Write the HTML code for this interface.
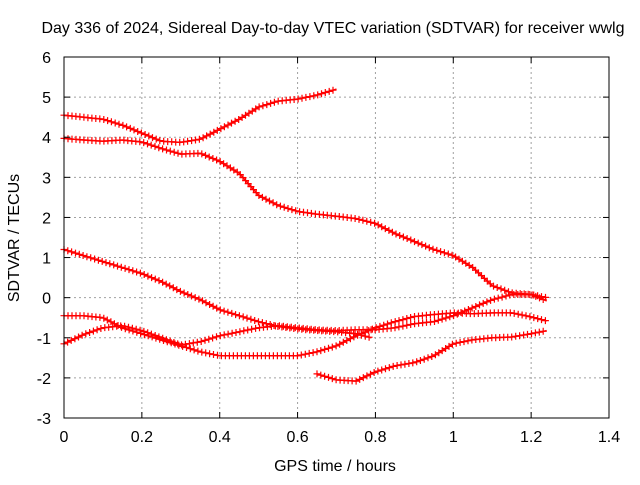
<!DOCTYPE html>
<html><head><meta charset="utf-8"><style>
body{margin:0;background:#fff}
svg text{font-family:"Liberation Sans",sans-serif;font-size:16px;fill:#000}
</style></head><body>
<svg id="chart" width="640" height="480" viewBox="0 0 640 480" xmlns="http://www.w3.org/2000/svg">
<rect width="640" height="480" fill="#fff"/>
<text x="333" y="33" text-anchor="middle">Day 336 of 2024, Sidereal Day-to-day VTEC variation (SDTVAR) for receiver wwlg</text>
<text x="335" y="471" text-anchor="middle">GPS time / hours</text>
<text transform="translate(19,238) rotate(-90)" text-anchor="middle">SDTVAR / TECUs</text>
<g id="grid"></g><g id="series"></g><g id="axes"></g>
</svg>
<script>
const xTicks=[0,0.2,0.4,0.6,0.8,1,1.2,1.4];
const xTickLabels=["0","0.2","0.4","0.6","0.8","1","1.2","1.4"];
const yTicks=[-3,-2,-1,0,1,2,3,4,5,6];
const yTickLabels=["-3","-2","-1","0","1","2","3","4","5","6"];
const xA=[0,0.05,0.1,0.15,0.2,0.25,0.3,0.35,0.4,0.45,0.5,0.55,0.6,0.65,0.7];
const yA=[4.55,4.5,4.45,4.3,4.1,3.9,3.87,3.95,4.2,4.45,4.75,4.9,4.95,5.05,5.2];
const xFull=[0,0.05,0.1,0.15,0.2,0.25,0.3,0.35,0.4,0.45,0.5,0.55,0.6,0.65,0.7,0.75,0.8,0.85,0.9,0.95,1.0,1.05,1.1,1.15,1.2,1.24];
const yB=[3.97,3.93,3.9,3.93,3.88,3.72,3.58,3.6,3.4,3.1,2.55,2.3,2.15,2.08,2.03,1.97,1.85,1.6,1.4,1.2,1.05,0.75,0.3,0.12,0.08,-0.08];
const xC=[0,0.05,0.1,0.15,0.2,0.25,0.3,0.35,0.4,0.45,0.5,0.55,0.6,0.65,0.7,0.75,0.79];
const yC=[1.2,1.05,0.9,0.75,0.6,0.4,0.15,-0.05,-0.3,-0.45,-0.6,-0.72,-0.78,-0.82,-0.85,-0.9,-1.0];
const yD=[-0.45,-0.45,-0.5,-0.75,-0.9,-1.05,-1.2,-1.35,-1.45,-1.45,-1.45,-1.45,-1.45,-1.35,-1.2,-0.95,-0.75,-0.6,-0.47,-0.42,-0.38,-0.4,-0.38,-0.38,-0.48,-0.58];
const yE=[-1.15,-0.92,-0.75,-0.7,-0.82,-1.0,-1.18,-1.1,-0.95,-0.85,-0.75,-0.7,-0.75,-0.8,-0.82,-0.8,-0.8,-0.75,-0.65,-0.6,-0.45,-0.25,-0.05,0.08,0.08,0.0];
const xF=[0.65,0.7,0.75,0.8,0.85,0.9,0.95,1.0,1.05,1.1,1.15,1.2,1.24];
const yF=[-1.9,-2.05,-2.08,-1.85,-1.7,-1.62,-1.45,-1.15,-1.05,-1.0,-0.98,-0.9,-0.82];
const seriesX=[xA,xFull,xC,xFull,xFull,xF];
const seriesY=[yA,yB,yC,yD,yE,yF];
const L=64,R=609,T=57,B=418;
const sx=v=>L+(v-0)/1.4*(R-L);
const sy=v=>T+(6-v)/9*(B-T);
const NS="http://www.w3.org/2000/svg";
function mk(tag,parent,attrs){const e=document.createElementNS(NS,tag);for(const k in attrs)e.setAttribute(k,attrs[k]);parent.appendChild(e);return e;}
const grid=document.getElementById('grid'),axes=document.getElementById('axes'),ser=document.getElementById('series');
xTicks.forEach((t,i)=>{const x=sx(t);
 if(i>0&&i<xTicks.length-1){const g=mk('line',grid,{x1:x,x2:x,y1:T,y2:B,stroke:'#a0a0a0','stroke-dasharray':'2,3'});
 
 }
 mk('line',axes,{x1:x,x2:x,y1:B,y2:B-6,stroke:'#000'});mk('line',axes,{x1:x,x2:x,y1:T,y2:T+6,stroke:'#000'});
 const tx=mk('text',axes,{x:x,y:B+24,'text-anchor':'middle'});tx.textContent=xTickLabels[i];
 
 });
yTicks.forEach((t,i)=>{const y=sy(t);
 if(i>0&&i<yTicks.length-1){const g=mk('line',grid,{x1:L,x2:R,y1:y,y2:y,stroke:'#a0a0a0','stroke-dasharray':'2,3'});
 
 }
 mk('line',axes,{x1:L,x2:L+6,y1:y,y2:y,stroke:'#000'});mk('line',axes,{x1:R,x2:R-6,y1:y,y2:y,stroke:'#000'});
 const tx=mk('text',axes,{x:L-13,y:y+6,'text-anchor':'end'});tx.textContent=yTickLabels[i];
 
 });
const frame=mk('rect',axes,{x:L,y:T,width:R-L,height:B-T,fill:'none',stroke:'#000'});


seriesY.forEach((ys,si)=>{const xs=seriesX[si];
 const pts=ys.map((v,i)=>sx(xs[i]).toFixed(1)+','+sy(v).toFixed(1)).join(' ');
 const pl=mk('polyline',ser,{points:pts,fill:'none',stroke:'#f00','stroke-width':1.5});
 
 
 // dense marker decoration along the drawn curve (like gnuplot's sampled points)
 const len=pl.getTotalLength();
 let d='';
 for(let s=0;s<=len;s+=4){const p=pl.getPointAtLength(s);d+=`M${(p.x-3.5).toFixed(1)},${p.y.toFixed(1)}h7M${p.x.toFixed(1)},${(p.y-3.5).toFixed(1)}v7`;}
 const mp=mk('path',ser,{d:d,stroke:'#f00','stroke-width':1.2,fill:'none'});
 
 
});
</script>
</body></html>
